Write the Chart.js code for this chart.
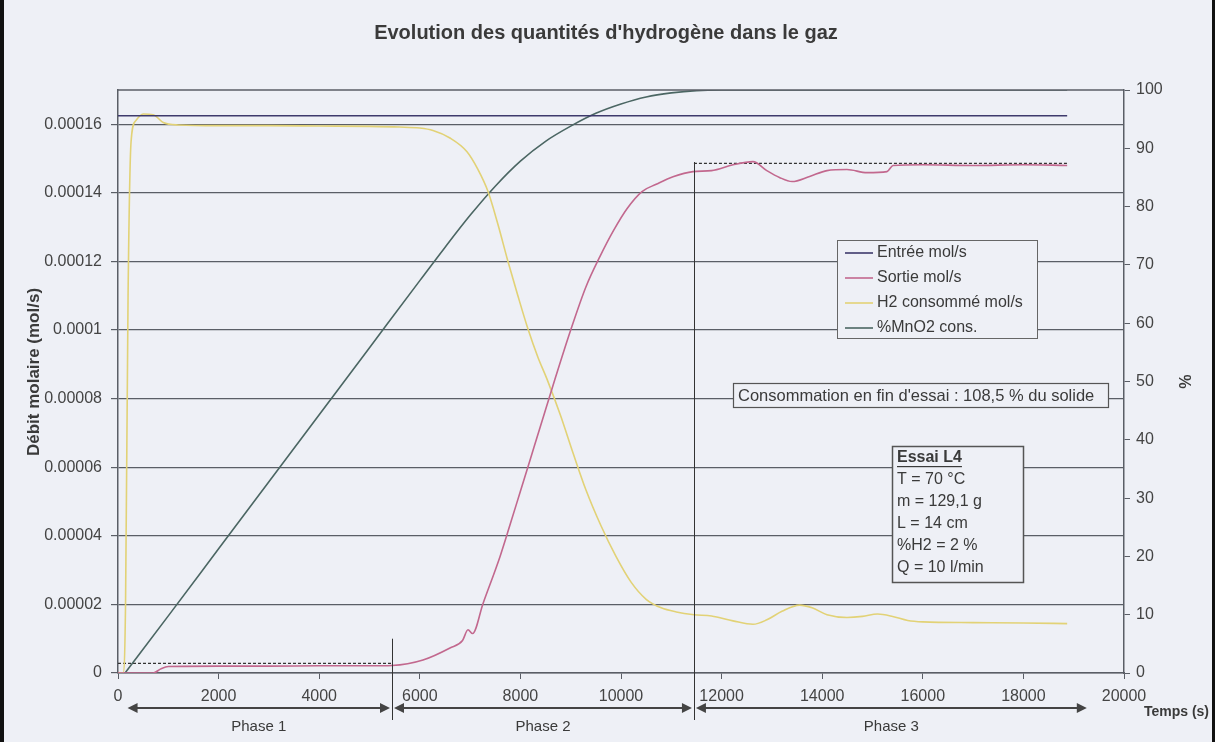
<!DOCTYPE html>
<html>
<head>
<meta charset="utf-8">
<title>Evolution des quantités d'hydrogène dans le gaz</title>
<script src="https://cdn.jsdelivr.net/npm/chart.js@4.4.1/dist/chart.umd.min.js"></script>
<style>
  html, body { margin: 0; padding: 0; background: #eef0f6; }
  #wrap { position: relative; width: 1215px; height: 742px; }
</style>
</head>
<body>
<div id="wrap"><canvas id="mainChart" width="1215" height="742"></canvas></div>
<script>
// Values (time in s)
const chartTitle = "Evolution des quantités d'hydrogène dans le gaz";

const tEntree = [0, 18870];
const entreeMol = [1.625e-4, 1.625e-4];

const tSortie = [0, 400, 700, 850, 1000, 2000, 3000, 4000, 5000, 5447, 6064, 6600, 6850, 6958, 7050, 7256,
  7594, 7800, 8000, 8200, 8400, 8688, 9000, 9300, 9583, 9850, 10119, 10417, 10700, 11034, 11431, 11800,
  12227, 12624, 12900, 13150, 13400, 13750, 14095, 14493, 14891, 15288, 15408, 16000, 17000, 18000, 18870];
const sortieMol = [0, 0, 0, 1.2e-6, 1.9e-6, 2.0e-6, 2.0e-6, 2.1e-6, 2.1e-6, 2.2e-6, 3.8e-6, 7.3e-6, 9.5e-6, 12.6e-6, 11.5e-6, 20.2e-6,
  33.9e-6, 43.5e-6, 53e-6, 62.5e-6, 72e-6, 85.7e-6, 100e-6, 112.5e-6, 121.5e-6, 129e-6, 135.4e-6, 140.4e-6, 142.5e-6, 144.7e-6, 146.2e-6, 146.5e-6,
  148.2e-6, 149.1e-6, 146.5e-6, 144.5e-6, 143.3e-6, 144.8e-6, 146.5e-6, 146.8e-6, 145.9e-6, 146.2e-6, 148e-6, 148.2e-6, 148e-6, 148.2e-6, 148e-6];

const tH2 = [0, 100, 150, 200, 260, 350, 500, 700, 900, 1200, 2000, 3000, 4000, 5000, 5600, 6000, 6262, 6600, 6938, 7150,
  7356, 7550, 7753, 7950, 8151, 8350, 8529, 8800, 9050, 9300, 9600, 9900, 10200, 10500, 10800, 11100, 11450, 11800,
  12227, 12624, 12900, 13200, 13550, 13800, 14095, 14493, 14800, 15100, 15400, 15700, 16000, 17000, 18000, 18870];
const h2Mol = [0, 0, 20e-6, 110e-6, 155e-6, 161e-6, 163e-6, 162.8e-6, 160.5e-6, 159.8e-6, 159.6e-6, 159.6e-6, 159.5e-6, 159.4e-6, 159.2e-6, 158.9e-6, 158.2e-6, 156e-6, 152e-6, 147e-6,
  140.4e-6, 131e-6, 120e-6, 110e-6, 100.3e-6, 92e-6, 85.7e-6, 75e-6, 64e-6, 53.5e-6, 43e-6, 34e-6, 26.5e-6, 21.5e-6, 19e-6, 17.8e-6, 17e-6, 16.6e-6,
  15.2e-6, 14.2e-6, 15.5e-6, 18e-6, 19.8e-6, 19e-6, 17e-6, 16.2e-6, 16.5e-6, 17.2e-6, 16.5e-6, 15.3e-6, 14.9e-6, 14.7e-6, 14.6e-6, 14.4e-6];

const tMnO2 = [140, 1000, 2000, 3000, 4000, 5000, 6000, 6500, 7000, 7500, 8000, 8500, 9000, 9500, 10000, 10500, 11000, 11500, 12000, 18870];
const mno2Pct = [0, 9.8, 21.3, 32.8, 44.3, 55.8, 67.3, 73, 78.5, 83.5, 87.8, 91.2, 93.8, 96, 97.6, 98.8, 99.5, 99.9, 100, 100];

// dotted reference levels and phase boundaries
const tInitialLevel = [0, 5447];
const initialLevel = [2.8e-6, 2.8e-6];
const tFinalLevel = [11450, 18870];
const finalLevel = [1.486e-4, 1.486e-4];

const phaseEdges = [150, 5447, 11450, 19300];
const phaseNames = ['Phase 1', 'Phase 2', 'Phase 3'];
const phaseLineTimes = [5447, 11450];
const phaseLineTops = [1.0e-5, 1.49e-4];

const essaiLines = ['Essai L4', 'T = 70 °C', 'm = 129,1 g', 'L = 14 cm', '%H2 = 2 %', 'Q = 10 l/min'];
const consoText = "Consommation en fin d'essai : 108,5 % du solide";

const FONT = '"Liberation Sans", Arial, sans-serif';
const TXT = '#3a3a3a';
const GRID = '#5a5e66';
const BG = '#eef0f6';

function toPoints(ts, vs) {
    return ts.map((t, i) => ({ x: t, y: vs[i] }));
}

const decorPlugin = {
    id: 'decor',
    beforeDraw(chart) {
        const { ctx, width, height } = chart;
        ctx.save();
        ctx.fillStyle = BG;
        ctx.fillRect(0, 0, width, height);
        ctx.restore();
    },
    afterDraw(chart) {
        const { ctx, chartArea: area } = chart;
        const x = chart.scales.x;
        const y = chart.scales.y;
        ctx.save();

        // top edge of the plot area
        ctx.strokeStyle = GRID;
        ctx.lineWidth = 1.5;
        ctx.beginPath();
        ctx.moveTo(area.left, area.top);
        ctx.lineTo(area.right, area.top);
        ctx.stroke();

        // title
        ctx.fillStyle = TXT;
        ctx.font = 'bold 20px ' + FONT;
        ctx.textAlign = 'center';
        ctx.textBaseline = 'middle';
        ctx.fillText(chartTitle, 606, 33);

        // y axis title, drawn here to place it like the scan
        ctx.save();
        ctx.translate(34, 372);
        ctx.rotate(-Math.PI / 2);
        ctx.font = 'bold 17px ' + FONT;
        ctx.fillText('Débit molaire (mol/s)', 0, 0);
        ctx.restore();

        // phase separators
        ctx.strokeStyle = '#333';
        ctx.lineWidth = 1;
        phaseLineTimes.forEach((t, i) => {
            const px = Math.round(x.getPixelForValue(t)) + 0.5;
            ctx.beginPath();
            ctx.moveTo(px, y.getPixelForValue(phaseLineTops[i]));
            ctx.lineTo(px, 720);
            ctx.stroke();
        });

        // phase arrows
        const ay = 708;
        ctx.strokeStyle = '#444';
        ctx.lineWidth = 2;
        for (let i = 0; i < phaseNames.length; i++) {
            const x1 = x.getPixelForValue(phaseEdges[i]) + 2;
            const x2 = x.getPixelForValue(phaseEdges[i + 1]) - 2;
            ctx.fillStyle = '#444';
            ctx.beginPath();
            ctx.moveTo(x1 + 6, ay);
            ctx.lineTo(x2 - 6, ay);
            ctx.stroke();
            ctx.beginPath();
            ctx.moveTo(x1, ay); ctx.lineTo(x1 + 10, ay - 5); ctx.lineTo(x1 + 10, ay + 5); ctx.closePath();
            ctx.fill();
            ctx.beginPath();
            ctx.moveTo(x2, ay); ctx.lineTo(x2 - 10, ay - 5); ctx.lineTo(x2 - 10, ay + 5); ctx.closePath();
            ctx.fill();
            ctx.fillStyle = TXT;
            ctx.font = '15px ' + FONT;
            ctx.textAlign = 'center';
            ctx.fillText(phaseNames[i], (x1 + x2) / 2, 727);
        }

        // x axis title
        ctx.fillStyle = TXT;
        ctx.font = 'bold 14px ' + FONT;
        ctx.textAlign = 'right';
        ctx.fillText('Temps (s)', 1209, 712);

        // legend
        const lx = 837, ly = 240, lw = 200, lh = 98;
        ctx.fillStyle = BG;
        ctx.fillRect(lx, ly, lw, lh);
        ctx.strokeStyle = '#666';
        ctx.lineWidth = 1;
        ctx.strokeRect(lx + 0.5, ly + 0.5, lw, lh);
        ctx.font = '16px ' + FONT;
        ctx.textAlign = 'left';
        chart.data.datasets.slice(0, 4).forEach((ds, i) => {
            const ry = ly + 13 + i * 25;
            ctx.strokeStyle = ds.borderColor;
            ctx.lineWidth = 1.6;
            ctx.beginPath();
            ctx.moveTo(lx + 8, ry);
            ctx.lineTo(lx + 36, ry);
            ctx.stroke();
            ctx.fillStyle = TXT;
            ctx.fillText(ds.label, lx + 40, ry);
        });

        // end-of-test box
        ctx.fillStyle = BG;
        ctx.fillRect(733, 383, 375, 24);
        ctx.strokeStyle = '#555';
        ctx.lineWidth = 1.2;
        ctx.strokeRect(733.5, 383.5, 375, 24);
        ctx.fillStyle = TXT;
        ctx.font = '16.5px ' + FONT;
        ctx.fillText(consoText, 738, 396);

        // test conditions box
        ctx.fillStyle = BG;
        ctx.fillRect(892, 446, 131, 136);
        ctx.strokeStyle = '#555';
        ctx.lineWidth = 1.5;
        ctx.strokeRect(892.5, 446.5, 131, 136);
        essaiLines.forEach((s, i) => {
            const ty = 458 + i * 22;
            ctx.fillStyle = TXT;
            ctx.font = (i === 0 ? 'bold ' : '') + '16px ' + FONT;
            ctx.fillText(s, 897, ty);
            if (i === 0) {
                const w = ctx.measureText(s).width;
                ctx.fillRect(897, ty + 8, w, 1.2);
            }
        });

        // scan frame (left and right edges)
        ctx.fillStyle = '#111';
        ctx.fillRect(0, 0, 4, chart.height);
        ctx.fillRect(chart.width - 3, 0, 3, chart.height);
        ctx.restore();
    }
};

const tickStyle = { font: { size: 16, family: FONT }, color: '#444' };

const mainChart = new Chart(document.getElementById('mainChart').getContext('2d'), {
    type: 'line',
    data: {
        datasets: [
            { label: 'Entrée mol/s', data: toPoints(tEntree, entreeMol), borderColor: '#3e3a6c', borderWidth: 1.6, yAxisID: 'y' },
            { label: 'Sortie mol/s', data: toPoints(tSortie, sortieMol), borderColor: '#c2688e', borderWidth: 1.6, yAxisID: 'y' },
            { label: 'H2 consommé mol/s', data: toPoints(tH2, h2Mol), borderColor: '#e2d276', borderWidth: 1.6, yAxisID: 'y' },
            { label: '%MnO2 cons.', data: toPoints(tMnO2, mno2Pct), borderColor: '#4b6663', borderWidth: 1.6, yAxisID: 'y1' },
            { label: '', data: toPoints(tInitialLevel, initialLevel), borderColor: '#333', borderWidth: 1.2, borderDash: [3, 2], yAxisID: 'y' },
            { label: '', data: toPoints(tFinalLevel, finalLevel), borderColor: '#333', borderWidth: 1.2, borderDash: [3, 2], yAxisID: 'y' }
        ]
    },
    options: {
        responsive: false,
        animation: false,
        layout: { padding: { top: 90, left: 0, right: 0, bottom: 0 } },
        elements: {
            point: { radius: 0 },
            line: { cubicInterpolationMode: 'monotone', fill: false }
        },
        plugins: {
            legend: { display: false },
            tooltip: { enabled: false }
        },
        scales: {
            x: {
                type: 'linear',
                min: 0,
                max: 20000,
                ticks: { ...tickStyle, stepSize: 2000, padding: 8, maxRotation: 0, callback: v => String(v) },
                grid: { drawOnChartArea: false, tickLength: 6, color: GRID },
                border: { color: GRID, width: 1.5 },
                afterFit: a => { a.height = 69; }
            },
            y: {
                position: 'left',
                min: 0,
                max: 0.00017,
                afterBuildTicks: a => { a.ticks = a.ticks.filter(t => t.value <= 0.000161); },
                ticks: { ...tickStyle, stepSize: 0.00002, padding: 9, callback: v => String(Number(v.toFixed(5))) },
                grid: { color: GRID, lineWidth: 1.2, tickLength: 7 },
                border: { color: GRID, width: 1.5 },
                afterFit: a => { a.width = 118; }
            },
            y1: {
                position: 'right',
                min: 0,
                max: 100,
                ticks: { ...tickStyle, stepSize: 10, padding: 6 },
                grid: { drawOnChartArea: false, tickLength: 6, color: GRID },
                border: { color: GRID, width: 1.5 },
                title: { display: true, text: '%', color: TXT, font: { size: 16, weight: 'bold', family: FONT }, padding: { top: 22 } },
                afterFit: a => { a.width = 91; }
            }
        }
    },
    plugins: [decorPlugin]
});
</script>
</body>
</html>
